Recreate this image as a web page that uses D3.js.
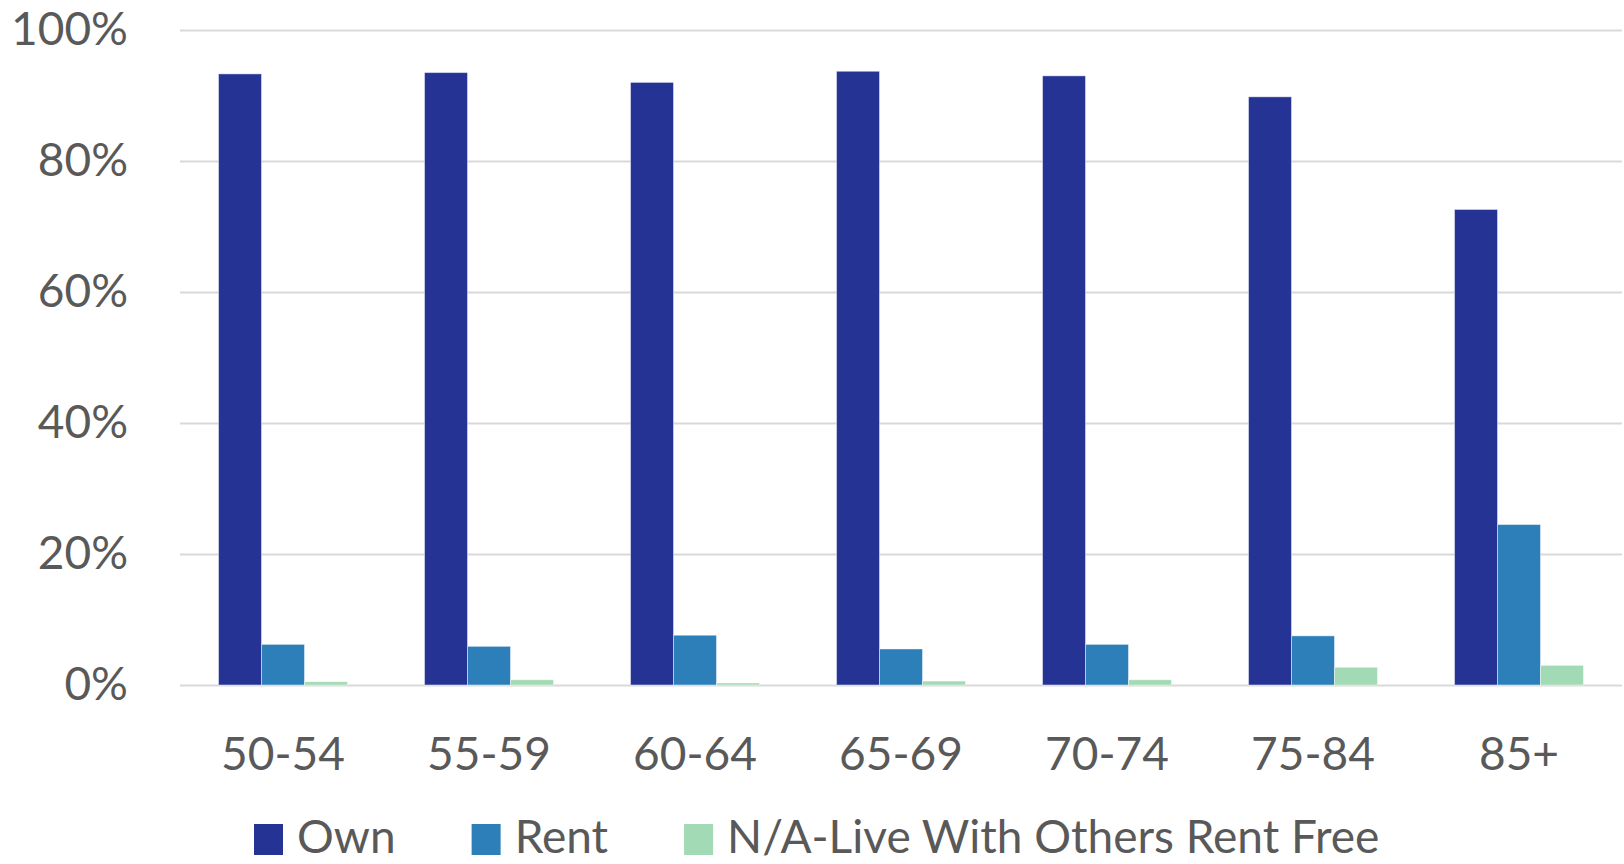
<!DOCTYPE html>
<html lang="en">
<head>
	<meta charset="UTF-8" />
	<script src="https://d3js.org/d3.v7.min.js"></script>
	<style>
		body { margin: 0; background: #ffffff; }
		text { font-family: Lato, "Open Sans", sans-serif; }
	</style>
</head>
<body>
	<svg width="1624" height="864"></svg>
	<script>
		// age groups along the x axis
		var categories = ["50-54", "55-59", "60-64", "65-69", "70-74", "75-84", "85+"]
		var seriesNames = ["Own", "Rent", "N/A-Live With Others Rent Free"]

		// values in percent
		var own = [93.3, 93.5, 92.0, 93.7, 93.0, 89.8, 72.6]
		var rent = [6.2, 5.9, 7.6, 5.5, 6.2, 7.5, 24.5]
		var liveFree = [0.5, 0.8, 0.3, 0.6, 0.8, 2.7, 3.0]

		var yTicks = [0, 20, 40, 60, 80, 100]
		var colors = ["#253494", "#2c7fb8", "#a1dab4"]

		var seriesValues = [own, rent, liveFree]

		var plotLeft = 180, plotRight = 1622, plotTop = 30, plotBottom = 685

		var svg = d3.select("svg")

		var x0 = d3.scaleBand()
			.domain(categories)
			.range([plotLeft, plotRight])
			.paddingInner(0.374)
			.paddingOuter(0.187)

		var x1 = d3.scaleBand()
			.domain(seriesNames)
			.range([0, x0.bandwidth()])

		var y = d3.scaleLinear()
			.domain([0, 100])
			.range([plotBottom, plotTop])

		// gridlines + y labels
		var yAxis = svg.append("g")
			.attr("transform", "translate(" + plotLeft + ",0)")
			.call(d3.axisLeft(y)
				.tickValues(yTicks)
				.tickSize(-(plotRight - plotLeft))
				.tickPadding(52)
				.tickFormat(function(d) { return d + "%"; }))
		yAxis.select(".domain").remove()
		yAxis.selectAll(".tick line")
			.attr("stroke", "#d9d9d9")
			.attr("stroke-width", 2)
		yAxis.selectAll(".tick text")
			.attr("fill", "#595959")
			.style("font-size", "46px")
			.style("font-family", "Lato, 'Open Sans', sans-serif")

		// bars
		var rows = categories.map(function(c, i) {
			return seriesNames.map(function(s, j) {
				return { cat: c, key: s, value: seriesValues[j][i], color: colors[j] }
			})
		})

		var groups = svg.append("g")
			.selectAll("g")
			.data(rows)
			.enter().append("g")
			.attr("transform", function(d) { return "translate(" + x0(d[0].cat) + ",0)"; })

		groups.selectAll("rect")
			.data(function(d) { return d; })
			.enter().append("rect")
			.attr("x", function(d) { return x1(d.key); })
			.attr("y", function(d) { return y(d.value); })
			.attr("width", x1.bandwidth())
			.attr("height", function(d) { return plotBottom - y(d.value); })
			.attr("fill", function(d) { return d.color; })
			.attr("stroke", "rgba(255,255,255,0.45)")
			.attr("stroke-width", 1)

		// x labels
		var xAxis = svg.append("g")
			.attr("transform", "translate(0," + plotBottom + ")")
			.call(d3.axisBottom(x0).tickSize(0).tickPadding(52))
		xAxis.select(".domain").remove()
		xAxis.selectAll(".tick text")
			.attr("fill", "#595959")
			.style("font-size", "46px")
			.style("font-family", "Lato, 'Open Sans', sans-serif")

		// legend
		var legend = svg.append("g")
		var lx = 254
		seriesNames.forEach(function(name, i) {
			legend.append("rect")
				.attr("x", lx)
				.attr("y", 824)
				.attr("width", 29)
				.attr("height", 31)
				.attr("fill", colors[i])
			var t = legend.append("text")
				.attr("x", lx + 43)
				.attr("y", 853)
				.attr("fill", "#595959")
				.style("font-size", "46px")
				.text(name)
			lx = lx + 43 + t.node().getComputedTextLength() + 76
		})
	</script>
</body>
</html>
